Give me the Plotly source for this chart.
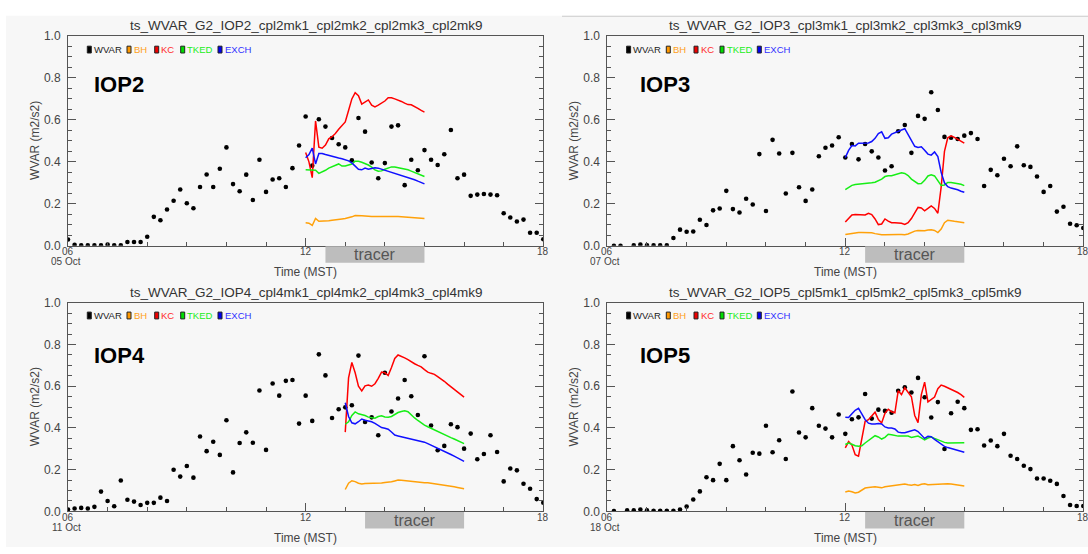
import plotly.graph_objects as go

W, H = 1088, 554

# ---------------- data ----------------
TIME_DOTS = [6 + i / 6 for i in range(73)]          # 10-min WVAR observations 06-18 MST
PANELS = ["IOP2", "IOP3", "IOP4", "IOP5"]
TITLES = ["ts_WVAR_G2_IOP2_cpl2mk1_cpl2mk2_cpl2mk3_cpl2mk9",
          "ts_WVAR_G2_IOP3_cpl3mk1_cpl3mk2_cpl3mk3_cpl3mk9",
          "ts_WVAR_G2_IOP4_cpl4mk1_cpl4mk2_cpl4mk3_cpl4mk9",
          "ts_WVAR_G2_IOP5_cpl5mk1_cpl5mk2_cpl5mk3_cpl5mk9"]
DATES = ["05 Oct", "07 Oct", "11 Oct", "18 Oct"]
MODEL_START = [12.0, 12.0, 13.0, 12.0]               # model series start hour (5-min steps, 3 h)
TRACER = [(12.5, 15.0), (12.5, 15.0), (13.5, 16.0), (12.5, 15.0)]

WVAR_IOP2 = [0.03, 0.005, 0.003, 0.002, 0.002, 0.002, 0.006, 0.003, 0.003, 0.018, 0.018, 0.018,
             0.043, 0.138, 0.122, 0.173, 0.215, 0.268, 0.203, 0.179, 0.280, 0.340, 0.280, 0.367,
             0.469, 0.294, 0.260, 0.339, 0.218, 0.410, 0.257, 0.316, 0.322, 0.280, 0.370, 0.478,
             0.616, 0.382, 0.603, 0.568, 0.514, 0.484, 0.469, 0.408, 0.609, 0.544, 0.397, 0.322,
             0.394, 0.568, 0.574, 0.289, 0.410, 0.360, 0.456, 0.410, 0.385, 0.436, 0.552, 0.322,
             0.339, 0.238, 0.244, 0.247, 0.244, 0.241, 0.155, 0.135, 0.116, 0.125, 0.062, 0.062, 0.031]
WVAR_IOP3 = [None, 0.0, 0.0, None, 0.002, 0.006, 0.003, 0.002, 0.002, 0.002, 0.037, 0.077,
             0.067, 0.068, 0.124, 0.099, 0.169, 0.178, 0.262, 0.175, 0.159, 0.224, 0.197, 0.437,
             0.166, 0.505, 0.440, 0.249, 0.443, 0.279, 0.214, 0.268, 0.427, 0.467, 0.478, 0.517,
             0.421, 0.485, 0.412, 0.485, 0.450, 0.421, 0.359, 0.379, 0.546, 0.576, 0.443, 0.619,
             0.605, 0.732, 0.647, 0.519, 0.515, 0.509, 0.525, 0.537, 0.509, 0.285, 0.362, 0.336,
             0.415, 0.379, 0.474, 0.384, 0.376, 0.330, 0.257, 0.285, 0.163, 0.186, 0.105, 0.098, 0.085]
WVAR_IOP4 = [0.009, 0.014, 0.017, 0.014, 0.022, 0.095, 0.050, 0.025, 0.148, 0.056, 0.047, 0.031,
             0.041, 0.041, 0.066, 0.050, 0.200, 0.167, 0.218, 0.162, 0.359, 0.289, 0.334, 0.271,
             0.437, 0.187, 0.328, 0.379, 0.329, 0.580, 0.295, 0.613, 0.555, 0.626, 0.630, 0.421,
             0.555, 0.434, 0.753, 0.652, 0.448, 0.490, 0.499, 0.509, 0.747, 0.429, 0.451, 0.365,
             0.665, 0.479, 0.541, 0.630, 0.552, 0.462, 0.744, 0.412, 0.293, 0.314, 0.418, 0.404,
             0.301, 0.373, 0.250, 0.275, 0.365, 0.285, 0.144, 0.206, 0.197, 0.133, 0.109, 0.059, 0.042]
WVAR_IOP5 = [None, 0.002, None, 0.005, 0.005, 0.009, 0.005, 0.003, 0.003, 0.003, 0.003, 0.009,
             0.023, 0.057, 0.096, 0.164, 0.150, 0.228, 0.150, 0.313, 0.245, 0.177, 0.281, 0.277,
             0.411, 0.284, 0.341, 0.251, 0.575, 0.378, 0.355, 0.495, 0.411, 0.397, 0.355, 0.465,
             0.372, 0.442, 0.451, 0.563, 0.445, 0.488, 0.482, 0.473, 0.578, 0.595, 0.570, 0.640,
             0.547, 0.450, 0.524, 0.299, 0.471, 0.526, 0.495, 0.391, 0.394, 0.316, 0.340, 0.313,
             0.372, 0.267, 0.251, 0.219, 0.203, 0.158, 0.158, 0.147, 0.132, 0.074, 0.031, 0.026, 0.026]

BH_IOP2 = [0.11, 0.108, 0.097, 0.13, 0.117, 0.117, 0.118, 0.12, 0.122, 0.125, 0.127, 0.128, 0.13,
           0.133, 0.138, 0.144, 0.145, 0.143, 0.142, 0.14, 0.14, 0.14, 0.14, 0.141, 0.142, 0.143,
           0.142, 0.141, 0.14, 0.139, 0.138, 0.136, 0.135, 0.134, 0.132, 0.131, 0.13]
KC_IOP2 = [0.445, 0.40, 0.325, 0.595, 0.47, 0.465, 0.48, 0.51, 0.52, 0.535, 0.555, 0.575, 0.59,
           0.645, 0.70, 0.73, 0.715, 0.675, 0.685, 0.695, 0.67, 0.662, 0.67, 0.68, 0.69, 0.706,
           0.705, 0.70, 0.695, 0.688, 0.68, 0.673, 0.672, 0.665, 0.655, 0.645, 0.637]
TKED_IOP2 = [0.362, 0.362, 0.363, 0.36, 0.345, 0.352, 0.36, 0.37, 0.378, 0.385, 0.39, 0.38, 0.38,
             0.385, 0.39, 0.403, 0.403, 0.398, 0.392, 0.385, 0.375, 0.362, 0.355, 0.357, 0.365,
             0.372, 0.376, 0.375, 0.372, 0.37, 0.366, 0.362, 0.356, 0.35, 0.345, 0.337, 0.33]
EXCH_IOP2 = [0.42, 0.435, 0.465, 0.39, 0.44, 0.44, 0.435, 0.43, 0.425, 0.42, 0.418, 0.415, 0.41,
             0.405, 0.395, 0.38, 0.365, 0.362, 0.37, 0.365, 0.368, 0.372, 0.37, 0.365, 0.36, 0.355,
             0.35, 0.347, 0.343, 0.338, 0.333, 0.325, 0.32, 0.315, 0.308, 0.30, 0.295]

BH_IOP3 = [0.054, 0.057, 0.06, 0.062, 0.063, 0.063, 0.063, 0.063, 0.062, 0.058, 0.054, 0.053, 0.053,
           0.054, 0.054, 0.054, 0.054, 0.054, 0.053, 0.056, 0.063, 0.07, 0.073, 0.072, 0.072, 0.075,
           0.076, 0.073, 0.063, 0.08, 0.11, 0.122, 0.118, 0.117, 0.115, 0.112, 0.11]
KC_IOP3 = [0.113, 0.128, 0.147, 0.149, 0.148, 0.146, 0.147, 0.155, 0.149, 0.128, 0.101, 0.104,
           0.128, 0.118, 0.11, 0.11, 0.109, 0.107, 0.102, 0.11, 0.13, 0.155, 0.183, 0.18, 0.167,
           0.178, 0.19, 0.178, 0.155, 0.28, 0.45, 0.515, 0.524, 0.517, 0.508, 0.498, 0.489]
TKED_IOP3 = [0.268, 0.28, 0.288, 0.292, 0.293, 0.294, 0.296, 0.298, 0.300, 0.303, 0.31, 0.318, 0.33,
             0.334, 0.334, 0.338, 0.345, 0.348, 0.345, 0.335, 0.318, 0.305, 0.296, 0.297, 0.312,
             0.333, 0.338, 0.333, 0.31, 0.288, 0.29, 0.302, 0.302, 0.300, 0.298, 0.293, 0.287]
EXCH_IOP3 = [0.42, 0.455, 0.478, 0.476, 0.489, 0.489, 0.49, 0.49, 0.497, 0.512, 0.535, 0.543, 0.512,
             0.515, 0.532, 0.54, 0.548, 0.552, 0.558, 0.53, 0.50, 0.474, 0.469, 0.472, 0.455, 0.437,
             0.432, 0.447, 0.425, 0.35, 0.30, 0.282, 0.275, 0.272, 0.267, 0.26, 0.255]

BH_IOP4 = [0.105, 0.135, 0.147, 0.143, 0.135, 0.131, 0.134, 0.134, 0.134, 0.134, 0.134, 0.136, 0.139,
           0.14, 0.142, 0.146, 0.15, 0.149, 0.147, 0.146, 0.144, 0.143, 0.142, 0.14, 0.138, 0.137,
           0.135, 0.133, 0.13, 0.128, 0.125, 0.123, 0.12, 0.118, 0.115, 0.112, 0.109]
KC_IOP4 = [0.38, 0.64, 0.714, 0.665, 0.60, 0.578, 0.602, 0.606, 0.60, 0.612, 0.638, 0.668, 0.665,
           0.652, 0.69, 0.733, 0.75, 0.744, 0.736, 0.728, 0.716, 0.708, 0.70, 0.693, 0.68, 0.668,
           0.662, 0.657, 0.646, 0.637, 0.624, 0.61, 0.597, 0.584, 0.571, 0.558, 0.548]
TKED_IOP4 = [0.418, 0.43, 0.46, 0.477, 0.468, 0.464, 0.46, 0.452, 0.448, 0.447, 0.455, 0.459, 0.453,
             0.452, 0.455, 0.466, 0.474, 0.479, 0.482, 0.478, 0.462, 0.448, 0.436, 0.424, 0.414,
             0.406, 0.398, 0.391, 0.383, 0.376, 0.368, 0.361, 0.354, 0.347, 0.34, 0.332, 0.325]
EXCH_IOP4 = [0.521, 0.455, 0.425, 0.42, 0.43, 0.443, 0.437, 0.433, 0.43, 0.422, 0.412, 0.402, 0.399,
             0.394, 0.381, 0.366, 0.362, 0.358, 0.356, 0.353, 0.349, 0.345, 0.341, 0.336, 0.332,
             0.325, 0.318, 0.31, 0.303, 0.295, 0.288, 0.281, 0.273, 0.265, 0.257, 0.248, 0.24]

BH_IOP5 = [0.093, 0.098, 0.094, 0.088, 0.092, 0.104, 0.112, 0.115, 0.117, 0.118, 0.116, 0.113, 0.118,
           0.12, 0.121, 0.124, 0.127, 0.129, 0.131, 0.128, 0.126, 0.129, 0.124, 0.13, 0.133, 0.128,
           0.129, 0.131, 0.132, 0.134, 0.135, 0.133, 0.132, 0.13, 0.127, 0.124, 0.122]
KC_IOP5 = [0.305, 0.335, 0.318, 0.272, 0.265, 0.35, 0.432, 0.44, 0.458, 0.476, 0.44, 0.424, 0.47,
           0.49, 0.478, 0.473, 0.578, 0.56, 0.593, 0.572, 0.55, 0.46, 0.426, 0.56, 0.62, 0.525,
           0.537, 0.548, 0.588, 0.606, 0.60, 0.593, 0.586, 0.578, 0.57, 0.56, 0.547]
TKED_IOP5 = [0.321, 0.328, 0.322, 0.315, 0.312, 0.315, 0.328, 0.34, 0.35, 0.363, 0.357, 0.347, 0.355,
             0.37, 0.368, 0.364, 0.361, 0.361, 0.361, 0.361, 0.355, 0.358, 0.361, 0.353, 0.343,
             0.352, 0.357, 0.35, 0.343, 0.336, 0.331, 0.328, 0.328, 0.329, 0.329, 0.329, 0.329]
EXCH_IOP5 = [0.451, 0.45, 0.468, 0.485, 0.494, 0.468, 0.44, 0.423, 0.419, 0.419, 0.421, 0.419, 0.405,
             0.40, 0.40, 0.395, 0.38, 0.377, 0.377, 0.382, 0.385, 0.391, 0.383, 0.365, 0.35, 0.36,
             0.358, 0.345, 0.333, 0.32, 0.312, 0.306, 0.301, 0.297, 0.294, 0.289, 0.284]

WVAR = [WVAR_IOP2, WVAR_IOP3, WVAR_IOP4, WVAR_IOP5]
BH = [BH_IOP2, BH_IOP3, BH_IOP4, BH_IOP5]
KC = [KC_IOP2, KC_IOP3, KC_IOP4, KC_IOP5]
TKED = [TKED_IOP2, TKED_IOP3, TKED_IOP4, TKED_IOP5]
EXCH = [EXCH_IOP2, EXCH_IOP3, EXCH_IOP4, EXCH_IOP5]

# ---------------- styles ----------------
BG = "#f7f7f7"
FRAME = "#555555"
TXT = "#444444"
C_BH, C_KC, C_TKED, C_EXCH = "#ffa10a", "#ff0000", "#16ee16", "#1010ff"
LEG_TXT = {"WVAR": "#222222", "BH": "#ffa020", "KC": "#ff2a2a", "TKED": "#22ee22", "EXCH": "#3030ff"}
LEG_SQ = {"WVAR": "#000000", "BH": "#ff9900", "KC": "#ee0000", "TKED": "#00dd00", "EXCH": "#0000ee"}
FONT = "Liberation Sans"

# frame pixel boxes (left, right, top, bottom)
BOX = [(68, 543.3, 29.7, 245.0), (607.3, 1083.3, 29.7, 245.0),
       (68, 543.3, 303.5, 517.5), (607.3, 1083.3, 303.5, 517.5)]
IOP_OFF = [23.7, 30.4, 23.7, 30.4]


def pxx(x):
    return x / W


def pxy(y):
    return 1 - y / H


fig = go.Figure()
shapes, annots = [], []

# background of the composite
shapes.append(dict(type="rect", xref="paper", yref="paper", x0=pxx(6), x1=1, y0=0, y1=pxy(9),
                   fillcolor=BG, line=dict(width=0), layer="below"))

for p in range(4):
    L, R, T, B = BOX[p]
    n = "" if p == 0 else str(p + 1)
    xa, ya = "x" + n, "y" + n
    t0 = MODEL_START[p]
    tm = [t0 + k / 12 for k in range(37)]

    fig.add_trace(go.Scatter(x=TIME_DOTS, y=WVAR[p], mode="markers", xaxis=xa, yaxis=ya,
                             marker=dict(color="black", size=4.6), showlegend=False))
    for ser, col in ((BH, C_BH), (KC, C_KC), (TKED, C_TKED), (EXCH, C_EXCH)):
        fig.add_trace(go.Scatter(x=tm, y=ser[p], mode="lines", xaxis=xa, yaxis=ya,
                                 line=dict(color=col, width=1.5), showlegend=False))

    common_x = dict(domain=[pxx(L), pxx(R)], range=[6, 18], showgrid=False, zeroline=False,
                    showline=True, linecolor=FRAME, linewidth=1, mirror=True,
                    tickmode="array", tickvals=[6, 12, 18], ticks="inside", ticklen=8,
                    tickcolor=FRAME, showticklabels=False,
                    minor=dict(tickmode="array", tickvals=list(range(7, 18)), ticks="inside",
                               ticklen=4, tickcolor=FRAME))
    common_y = dict(domain=[pxy(B), pxy(T)], range=[0, 1], showgrid=False, zeroline=False,
                    showline=True, linecolor=FRAME, linewidth=1, mirror="ticks",
                    tickmode="array", tickvals=[0, 0.2, 0.4, 0.6, 0.8, 1.0],
                    ticktext=["0.0", "0.2", "0.4", "0.6", "0.8", "1.0"],
                    ticks="inside", ticklen=8, tickcolor=FRAME, ticklabelstandoff=4,
                    tickfont=dict(family=FONT, size=12, color=TXT),
                    minor=dict(dtick=0.05, ticks="inside", ticklen=4, tickcolor=FRAME))
    fig.update_layout(**{"xaxis" + n: dict(common_x, anchor=ya),
                         "yaxis" + n: dict(common_y, anchor=xa)})

    # title
    annots.append(dict(xref="paper", yref="paper", x=pxx((L + R) / 2), y=pxy(T - 11),
                       text=TITLES[p], showarrow=False, xanchor="center", yanchor="middle",
                       font=dict(family=FONT, size=13.5, color="#333333")))
    # x tick labels
    for hv, lab in ((6, "06"), (12, "12"), (18, "18")):
        annots.append(dict(xref=xa, yref="paper", x=hv, y=pxy(B + 5.5), text=lab, showarrow=False,
                           xanchor="center", yanchor="middle", height=10,
                           font=dict(family=FONT, size=10, color=TXT)))
    annots.append(dict(xref=xa, yref="paper", x=6, y=pxy(B + 15.5), text=DATES[p], showarrow=False,
                       xanchor="center", yanchor="middle", xshift=-2, height=10,
                       font=dict(family=FONT, size=10, color=TXT)))
    # axis titles
    annots.append(dict(xref="paper", yref="paper", x=pxx((L + R) / 2), y=pxy(B + 27),
                       text="Time (MST)", showarrow=False, xanchor="center", yanchor="middle",
                       font=dict(family=FONT, size=12, color=TXT)))
    annots.append(dict(xref="paper", yref="paper", x=pxx(L - 33), y=pxy((T + B) / 2),
                       text="WVAR (m2/s2)", showarrow=False, textangle=-90,
                       xanchor="center", yanchor="middle",
                       font=dict(family=FONT, size=12, color=TXT)))
    # IOP label
    annots.append(dict(xref="paper", yref="paper", x=pxx(L + IOP_OFF[p]), y=pxy(T + 50 if p < 2 else T + 54),
                       text="<b>" + PANELS[p] + "</b>", showarrow=False, xanchor="left",
                       yanchor="middle", font=dict(family=FONT, size=22, color="black")))
    # pseudo legend
    ly = T + 14 if p < 2 else T + 13
    for off, name in ((21.3, "WVAR"), (61, "BH"), (88.7, "KC"), (114.7, "TKED"), (152, "EXCH")):
        sx = L + off
        shapes.append(dict(type="rect", xref="paper", yref="paper",
                           x0=pxx(sx - 2), x1=pxx(sx + 2), y0=pxy(ly + 3.5), y1=pxy(ly - 3.5),
                           fillcolor=LEG_SQ[name], line=dict(color="#222222", width=1)))
        annots.append(dict(xref="paper", yref="paper", x=pxx(sx + 2.5), y=pxy(ly), text=name,
                           showarrow=False, xanchor="left", yanchor="middle",
                           font=dict(family=FONT, size=9.5, color=LEG_TXT[name])))
    # tracer bar
    a, b = TRACER[p]
    shapes.append(dict(type="rect", xref=xa, yref="paper", x0=a, x1=b,
                       y0=pxy(B + 17.5), y1=pxy(B + 0.5), fillcolor="#bdbdbd", line=dict(width=0)))
    annots.append(dict(xref=xa, yref="paper", x=(a + b) / 2, y=pxy(B + 9), text="tracer",
                       showarrow=False, xanchor="center", yanchor="middle",
                       font=dict(family=FONT, size=16, color="#555555")))

# thin border line at top of the right-hand screenshot
shapes.append(dict(type="line", xref="paper", yref="paper", x0=pxx(562), x1=1, y0=pxy(9.5), y1=pxy(9.5),
                   line=dict(color="#cccccc", width=1)))

fig.update_layout(width=W, height=H, margin=dict(l=0, r=0, t=0, b=0),
                  paper_bgcolor="white", plot_bgcolor=BG, showlegend=False,
                  shapes=shapes, annotations=annots)
fig.write_html("out.html")
